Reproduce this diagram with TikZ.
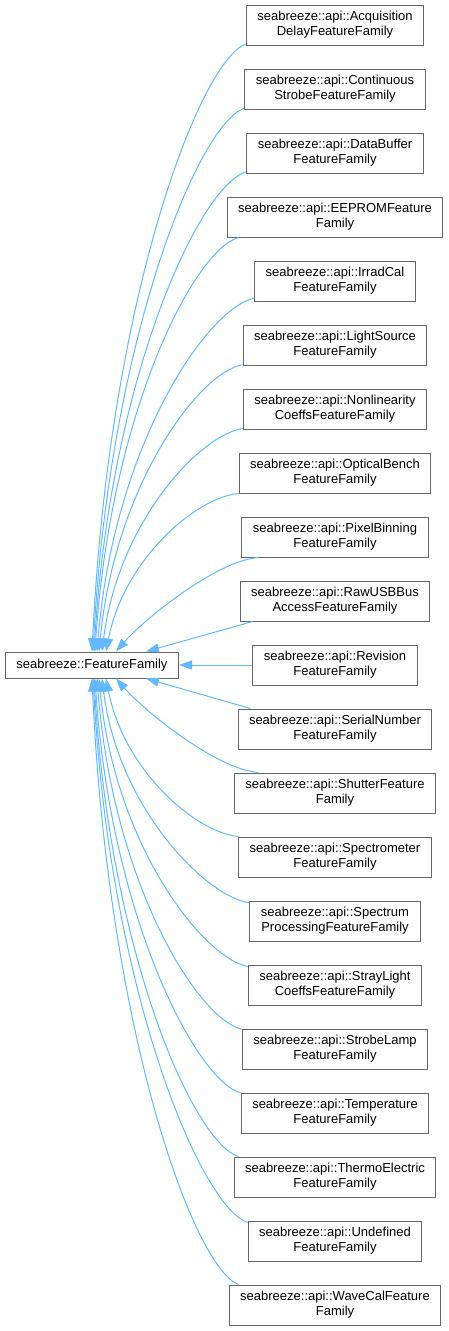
\documentclass[tikz,border=0pt]{standalone}
\usepackage{fontspec}
\setmainfont{Liberation Sans}
\usetikzlibrary{arrows.meta}
\definecolor{edgeblue}{HTML}{63B8FF}
\definecolor{boxgray}{HTML}{666666}
\begin{document}
\begin{tikzpicture}[x=1pt,y=-1pt,
    cls/.style={draw=boxgray,line width=1pt,fill=white,align=center,inner xsep=11pt,inner ysep=2pt,minimum height=40pt,font=\fontsize{13}{15}\selectfont},
    basecls/.style={cls,minimum height=26pt},
    inh/.style={draw=edgeblue,line width=1pt,-{Triangle[length=13pt,width=9pt]}}]
    \useasboundingbox (0,0) rectangle (449,1331);
    \node[basecls] (base) at (92,665) {seabreeze::FeatureFamily};
    \node[cls] (d1) at (335,25) {seabreeze::api::Acquisition\\DelayFeatureFamily};
    \node[cls] (d2) at (335,89) {seabreeze::api::Continuous\\StrobeFeatureFamily};
    \node[cls] (d3) at (335,153) {seabreeze::api::DataBuffer\\FeatureFamily};
    \node[cls] (d4) at (335,217) {seabreeze::api::EEPROMFeature\\Family};
    \node[cls] (d5) at (335,281) {seabreeze::api::IrradCal\\FeatureFamily};
    \node[cls] (d6) at (335,345) {seabreeze::api::LightSource\\FeatureFamily};
    \node[cls] (d7) at (335,409) {seabreeze::api::Nonlinearity\\CoeffsFeatureFamily};
    \node[cls] (d8) at (335,473) {seabreeze::api::OpticalBench\\FeatureFamily};
    \node[cls] (d9) at (335,537) {seabreeze::api::PixelBinning\\FeatureFamily};
    \node[cls] (d10) at (335,601) {seabreeze::api::RawUSBBus\\AccessFeatureFamily};
    \node[cls] (d11) at (335,665) {seabreeze::api::Revision\\FeatureFamily};
    \node[cls] (d12) at (335,729) {seabreeze::api::SerialNumber\\FeatureFamily};
    \node[cls] (d13) at (335,793) {seabreeze::api::ShutterFeature\\Family};
    \node[cls] (d14) at (335,857) {seabreeze::api::Spectrometer\\FeatureFamily};
    \node[cls] (d15) at (335,921) {seabreeze::api::Spectrum\\ProcessingFeatureFamily};
    \node[cls] (d16) at (335,985) {seabreeze::api::StrayLight\\CoeffsFeatureFamily};
    \node[cls] (d17) at (335,1049) {seabreeze::api::StrobeLamp\\FeatureFamily};
    \node[cls] (d18) at (335,1113) {seabreeze::api::Temperature\\FeatureFamily};
    \node[cls] (d19) at (335,1177) {seabreeze::api::ThermoElectric\\FeatureFamily};
    \node[cls] (d20) at (335,1241) {seabreeze::api::Undefined\\FeatureFamily};
    \node[cls] (d21) at (335,1305) {seabreeze::api::WaveCalFeature\\Family};
    % upper half
    \draw[inh] (d1.192) .. controls +(-46,17) and +(17,-353) .. ([xshift=0pt]base.north);
    \draw[inh] (d2.192) .. controls +(-45,15) and +(17,-316) .. ([xshift=1pt]base.north);
    \draw[inh] (d3.192) .. controls +(-46,13) and +(17,-278) .. ([xshift=2pt]base.north);
    \draw[inh] (d4.192) .. controls +(-44,12) and +(16,-241) .. ([xshift=3pt]base.north);
    \draw[inh] (d5.192) .. controls +(-47,10) and +(17,-207) .. ([xshift=5pt]base.north);
    \draw[inh] (d6.192) .. controls +(-44,8) and +(16,-166) .. ([xshift=7pt]base.north);
    \draw[inh] (d7.192) .. controls +(-43,6) and +(16,-129) .. ([xshift=10pt]base.north);
    \draw[inh] (d8.192) .. controls +(-43,4) and +(18,-92) .. ([xshift=14pt]base.north);
    \draw[inh] (d9.195) .. controls +(-42,3) and +(28,-32) .. ([xshift=24pt]base.north);
    \draw[inh] ([xshift=13pt]d10.south west) -- ([xshift=54pt]base.north);
    \draw[inh] (d11) -- (base);
    % lower half
    \draw[inh] ([xshift=13pt]d12.north west) -- ([xshift=54pt]base.south);
    \draw[inh] (d13.165) .. controls +(-42,-3) and +(28,32) .. ([xshift=24pt]base.south);
    \draw[inh] (d14.168) .. controls +(-43,-4) and +(18,92) .. ([xshift=14pt]base.south);
    \draw[inh] (d15.168) .. controls +(-43,-6) and +(16,130) .. ([xshift=10pt]base.south);
    \draw[inh] (d16.168) .. controls +(-44,-8) and +(16,168) .. ([xshift=7pt]base.south);
    \draw[inh] (d17.168) .. controls +(-44,-10) and +(16,205) .. ([xshift=5pt]base.south);
    \draw[inh] (d18.168) .. controls +(-44,-12) and +(16,240) .. ([xshift=3pt]base.south);
    \draw[inh] (d19.168) .. controls +(-44,-13) and +(16,278) .. ([xshift=2pt]base.south);
    \draw[inh] (d20.168) .. controls +(-46,-15) and +(17,316) .. ([xshift=1pt]base.south);
    \draw[inh] (d21.168) .. controls +(-45,-17) and +(16,353) .. ([xshift=0pt]base.south);
\end{tikzpicture}
\end{document}
